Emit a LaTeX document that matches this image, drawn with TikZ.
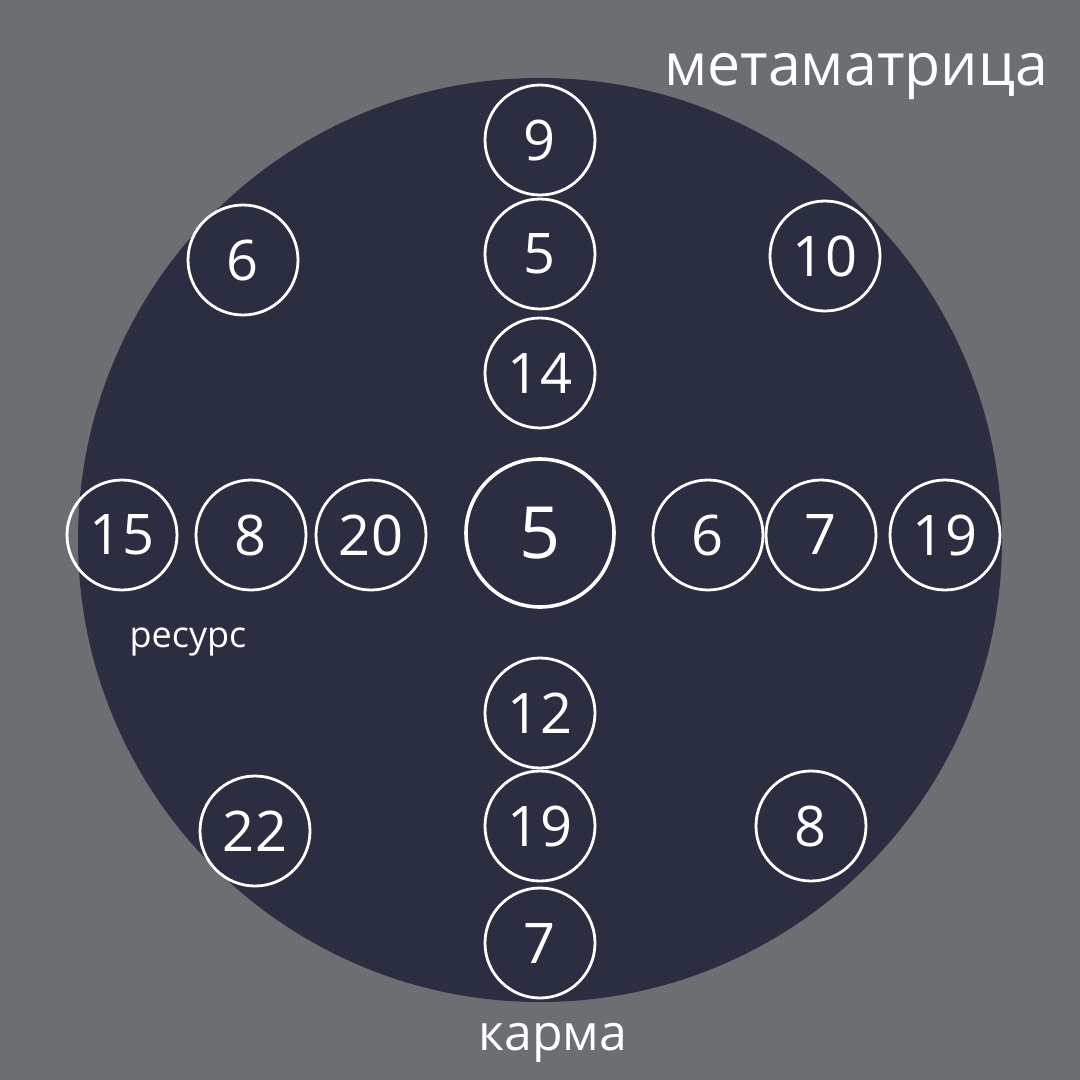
\documentclass[tikz,border=0pt]{standalone}
\usepackage{fontspec}
\setmainfont{Open Sans}
\definecolor{bggray}{RGB}{108,111,114}
\definecolor{discblue}{RGB}{43,45,65}
\begin{document}
\begin{tikzpicture}[x=1pt,y=-1pt,
  num/.style={circle,draw=white,line width=2.8pt,minimum size=110pt,inner sep=0pt,
    text=white,font=\fontsize{56}{60}\selectfont},
  numbig/.style={num,line width=3.6pt,minimum size=148pt,font=\fontsize{72}{76}\selectfont},
  caption/.style={text=white,inner sep=0pt,anchor=base}]
  \useasboundingbox (0,0) rectangle (1080,1080);
  \fill[bggray] (0,0) rectangle (1080,1080);
  \fill[discblue] (540,540) circle[radius=462];
  % vertical line
  \node[num] (top1) at (540,140) {9};
  \node[num] (top2) at (540,254) {5};
  \node[num] (top3) at (540,373) {14};
  \node[numbig] (centre) at (540,533) {5};
  \node[num] (bot1) at (540,713) {12};
  \node[num] (bot2) at (540,826) {19};
  \node[num] (bot3) at (540,943) {7};
  % horizontal line
  \node[num] (left1) at (122,535) {15};
  \node[num] (left2) at (251,535) {8};
  \node[num] (left3) at (371,535) {20};
  \node[num] (right1) at (708,535) {6};
  \node[num] (right2) at (821,535) {7};
  \node[num] (right3) at (945,535) {19};
  % corners
  \node[num] (nw) at (243,260) {6};
  \node[num] (ne) at (825,256) {10};
  \node[num] (sw) at (255,831) {22};
  \node[num] (se) at (811,826) {8};
  % labels
  \node[caption,font=\fontsize{59}{64}\selectfont] (title) at (856,85) {метаматрица};
  \node[caption,font=\fontsize{36}{40}\selectfont] (resource) at (188,647) {ресурс};
  \node[caption,font=\fontsize{50}{54}\selectfont] (karma) at (553,1050) {карма};
\end{tikzpicture}
\end{document}
